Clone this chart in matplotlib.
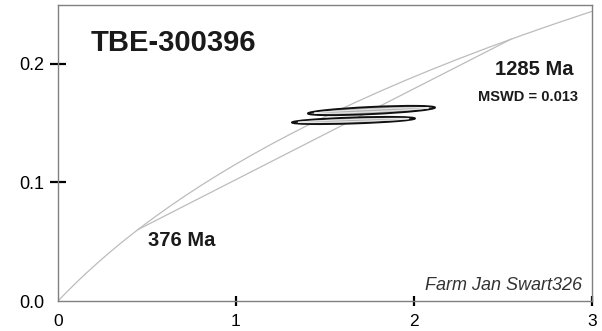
import matplotlib
matplotlib.use("Agg")
import matplotlib.pyplot as plt
from matplotlib.patches import Ellipse

plt.rcParams['font.family'] = ['Liberation Sans', 'DejaVu Sans']

# Concordia curve points (207Pb/235U, 206Pb/238U), 50 Ma steps, read/estimated
conc_x = [0.0, 0.05048, 0.10350, 0.15920, 0.21771, 0.27917, 0.34374, 0.41156,
          0.48281, 0.55766, 0.63628, 0.71887, 0.80563, 0.89677, 0.99251,
          1.09308, 1.19873, 1.30971, 1.42630, 1.54876, 1.67741, 1.81255,
          1.95452, 2.10365, 2.26030, 2.42487, 2.59774, 2.77933, 2.97010, 3.0]
conc_y = [0.0, 0.007786, 0.015633, 0.023542, 0.031511, 0.039543, 0.047637,
          0.055795, 0.064016, 0.072300, 0.080650, 0.089064, 0.097544, 0.106090,
          0.114702, 0.123382, 0.132129, 0.140944, 0.149828, 0.158781, 0.167804,
          0.176897, 0.186061, 0.195296, 0.204603, 0.213983, 0.223435, 0.232961,
          0.242562, 0.24403]

# Discordia from lower (376 Ma) to upper (1285 Ma) intercept
disc_x = [0.44817, 2.54498]
disc_y = [0.060061, 0.220592]

# Data-point error ellipses
ell_cx = [1.761, 1.660]
ell_cy = [0.1605, 0.1521]
ell_w = [0.713, 0.690]
ell_h = [0.0060, 0.0050]
ell_ang = [0.40, 0.28]

xticks = [0, 1, 2, 3]
xticklabels = ['0', '1', '2', '3']
yticks = [0.0, 0.1, 0.2]
yticklabels = ['0.0', '0.1', '0.2']

fig = plt.figure(figsize=(6.02, 3.31), dpi=100)
ax = fig.add_axes([58/602, 30/331, 534/602, 296/331])
ax.set_xlim(0, 3)
ax.set_ylim(0, 0.2494)

ax.plot(conc_x, conc_y, color='#bcbcbc', lw=0.9, zorder=2)
ax.plot(disc_x, disc_y, color='#bcbcbc', lw=0.9, zorder=2)

for cx, cy, w, h, a in zip(ell_cx, ell_cy, ell_w, ell_h, ell_ang):
    ax.add_patch(Ellipse((cx, cy), w, h, angle=a, facecolor='#b0b0b0',
                         edgecolor='#111111', lw=1.4, zorder=3))
    ax.add_patch(Ellipse((cx, cy), w * 0.9, h * 0.35, angle=a, facecolor='none',
                         edgecolor='#e6e6e6', lw=0.8, zorder=4))

for sp in ax.spines.values():
    sp.set_color('#808080')
    sp.set_linewidth(1.0)

ax.set_xticks(xticks)
ax.set_xticklabels(xticklabels)
ax.set_yticks(yticks)
ax.set_yticklabels(yticklabels)
ax.tick_params(axis='x', direction='inout', length=7, width=1.6, color='black',
               labelsize=12.5, pad=5.5)
ax.tick_params(axis='y', direction='inout', length=12, width=1.6, color='black',
               labelsize=13, pad=4)
ax.xaxis.get_major_ticks()[0].tick1line.set_visible(False)
ax.yaxis.get_major_ticks()[0].tick1line.set_visible(False)

ax.text(0.185, 0.2106, 'TBE-300396', fontsize=21, fontweight='bold',
        ha='left', va='baseline', color='#1a1a1a')
ax.text(2.677, 0.1904, '1285 Ma', fontsize=14.5, fontweight='bold',
        ha='center', va='baseline', color='#1a1a1a')
ax.text(2.638, 0.1685, 'MSWD = 0.013', fontsize=10.5, fontweight='bold',
        ha='center', va='baseline', color='#1a1a1a')
ax.text(0.506, 0.0463, '376 Ma', fontsize=14.5, fontweight='bold',
        ha='left', va='baseline', color='#1a1a1a')
ax.text(2.944, 0.00927, 'Farm Jan Swart326', fontsize=13, fontstyle='italic',
        ha='right', va='baseline', color='#333333')

fig.savefig('out.png', dpi=100)
